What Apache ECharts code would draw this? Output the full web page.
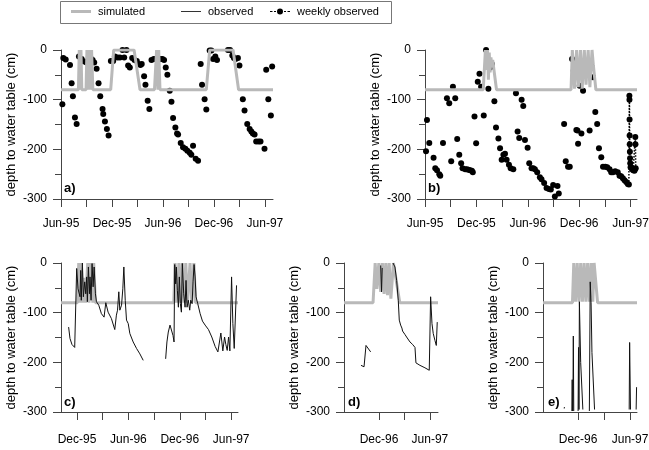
<!DOCTYPE html>
<html>
<head>
<meta charset="utf-8">
<script src="https://cdn.jsdelivr.net/npm/echarts@6/dist/echarts.min.js"></script>
<style>
html, body { margin: 0; padding: 0; background: #fff; }
#chart { width: 649px; height: 450px; }
</style>
</head>
<body>
<div id="chart"></div>
<script>
// x = months after Jun-95 (0 = Jun-95 ... 24 = Jun-97), y = depth to water table (cm)
var monthNames = { 0: 'Jun-95', 6: 'Dec-95', 12: 'Jun-96', 18: 'Dec-96', 24: 'Jun-97' };
var ticksFull = [0, 3, 6, 9, 12, 15, 18, 21, 24];
var labelsFull = [0, 6, 12, 18, 24];
var ticksC = [6, 9, 12, 15, 18, 21, 24];
var labelsC = [6, 12, 18, 24];
var ticksDE = [18, 21, 24];
var labelsDE = [18, 24];

// simulated water table
var simA = [[0,-80],[2.05,-80],[2.15,0],[2.25,-80],[2.35,0],[2.45,-80],[2.95,-80],[3.05,0],[3.15,-80],[3.25,0],[3.4,0],[3.5,-80],[3.6,0],[3.75,-80],[5.85,-80],[6.2,0],[8.6,0],[9.3,-80],[11.0,-80],[11.25,0],[11.4,-80],[11.5,0],[11.65,-80],[11.9,-80],[17.1,-80],[17.5,0],[20.25,0],[20.9,-80],[24.95,-80]];
var simB = [[0,-80],[6.8,-80],[7.05,0],[7.15,-40],[7.3,0],[7.4,-60],[7.5,-5],[7.6,-45],[7.7,-15],[7.8,-35],[7.9,-20],[8.35,-80],[17.05,-80],[17.2,0],[17.45,-78],[17.7,0],[17.9,-75],[18.15,0],[18.35,-78],[18.6,0],[18.8,-70],[19.05,0],[19.25,-75],[19.5,0],[19.65,-30],[19.95,-80],[24.75,-80]];
var simC = [[4.13,-80],[6.05,-80],[6.2,0],[6.35,-80],[6.5,0],[6.65,-80],[6.8,-30],[7.0,-80],[7.25,0],[7.4,-80],[7.55,0],[7.7,0],[7.85,-80],[7.95,0],[8.15,-80],[17.3,-80],[17.45,0],[17.65,-80],[17.9,0],[18.1,-80],[18.3,0],[18.5,-80],[18.7,0],[18.9,-80],[19.2,0],[19.4,-80],[19.65,0],[19.85,-80],[24.8,-80]];
var simD = [[13.88,-80],[17.3,-80],[17.55,0],[17.75,-52],[17.98,0],[18.2,-58],[18.4,0],[18.6,-62],[18.8,0],[19.0,-65],[19.2,0],[19.4,-72],[19.7,0],[19.9,0],[20.45,-80],[24.95,-80]];
var simE = [[13.95,-80],[17.35,-80],[17.5,0],[17.7,-78],[17.9,0],[18.1,-78],[18.3,0],[18.5,-78],[18.7,0],[18.9,-78],[19.1,0],[19.3,-78],[19.5,0],[19.7,-78],[19.85,0],[20.25,-80],[24.8,-80]];

// weekly observed
var weekA = [[0.16,-109],[0.27,-16],[0.55,-19],[1.06,-30],[1.25,-67],[1.4,-93],[1.64,-136],[1.84,-149],
  [2.11,-13],[2.43,-18],[2.74,-23],[3.01,-25],[3.29,-13],[3.48,-16],[3.72,-20],[3.91,-25],[4.19,-38],[4.42,-67],[4.62,-93],[4.89,-119],[4.97,-129],[5.17,-144],[5.4,-159],[5.6,-172],
  [5.87,-22],[6.14,-22],[6.34,-13],[6.65,-15],[6.93,-15],[7.24,0],[7.44,-15],[7.71,0],[7.9,-31],[8.1,-35],[8.38,-16],[8.65,-20],[8.92,-22],[9.12,-28],[9.35,-30],[9.5,-28],[9.78,-53],[9.94,-70],[10.2,-102],[10.4,-119],
  [10.65,-20],[10.92,-18],[11.15,-18],[11.43,-18],[11.7,-18],[11.94,-18],[12.13,-20],[12.33,-35],[12.52,-50],[12.8,-82],[13.0,-104],[13.19,-137],[13.46,-156],[13.66,-168],[13.78,-170],[14.09,-187],[14.36,-196],[14.64,-199],[14.87,-203],[15.15,-207],[15.34,-211],[15.54,-193],[15.85,-219],[16.13,-223],
  [16.44,-28],[16.6,-70],[16.9,-99],[17.1,-120],[17.5,-1],[17.7,-1],[17.9,-18],[18.16,-13],[18.36,-20],[19.65,0],[19.9,0],[20.16,-11],[20.35,-16],[20.55,-18],[20.82,-16],[21.0,-31],
  [21.4,-99],[21.6,-122],[21.92,-149],[22.2,-159],[22.4,-164],[22.58,-168],[22.78,-170],[22.97,-184],[23.25,-184],[23.48,-184],[23.95,-199],[24.15,-40],[24.4,-99],[24.7,-132],[24.85,-33]];
var weekB = [[0.12,-204],[0.23,-141],[0.5,-187],[1.0,-217],[1.2,-238],[1.4,-242],[1.67,-250],[1.78,-253],[2.1,-187],[2.56,-97],[2.83,-107],[3.06,-224],[3.26,-74],[3.53,-97],[3.76,-179],[4.0,-211],[4.22,-228],[4.38,-238],[4.69,-240],[4.88,-240],[5.08,-241],[5.27,-242],[5.47,-243],[5.58,-246],
  [5.78,-134],[5.97,-188],[6.16,-64],[6.36,-48],[6.55,-74],[6.86,-132],[7.13,0],[7.4,-78],[7.6,-35],[7.79,-28],[8.1,-103],[8.29,-156],[8.57,-178],[8.76,-198],[8.95,-221],[9.15,-211],[9.34,-209],[9.53,-221],[9.8,-231],[10.0,-238],[10.31,-240],
  [10.62,-87],[10.81,-164],[11.0,-177],[11.28,-100],[11.47,-113],[11.67,-181],[11.98,-197],[12.17,-228],[12.44,-238],[12.64,-238],[12.83,-240],[13.1,-246],[13.41,-256],[13.6,-260],[13.91,-268],[14.19,-278],[14.46,-280],[14.69,-281],[14.96,-272],[15.16,-295],[15.47,-274],[15.62,-289],[15.85,-302],
  [16.24,-149],[16.43,-224],[16.7,-235],[16.9,-235],[17.17,-18],[17.36,-42],[17.67,-161],[17.8,-162],[17.87,-189],[18.06,-72],[18.26,-168],[18.45,-82],[19.22,-162],[19.42,-32],[19.61,-55],[19.88,-125],[20.1,-149],[20.31,-198],[20.58,-216],[20.78,-235],[21.05,-235],[21.28,-236],[21.55,-240],[21.74,-246],[21.94,-246],[22.2,-244],[22.5,-246],[22.71,-253],[22.9,-254],[23.1,-258],[23.29,-262],[23.49,-266],[23.68,-270]];
var weekBDense = [[23.8,-271],[23.86,-92],[23.87,-100],[23.88,-140],[23.89,-172],[23.9,-190],[23.92,-205],[23.94,-218],[23.96,-228],[24.0,-236],[24.1,-238],[24.2,-240],[24.3,-242],[24.45,-243],[24.52,-240],[24.55,-175],[24.57,-190],[24.6,-238]];

// continuous observed ('-' = no record)
var obsC = [[5.02,-129],[5.18,-152],[5.41,-164],[5.73,-170],[5.92,-174],[5.96,-11],[6.12,-52],[6.23,-55],[6.35,-68],[6.43,-15],[6.5,-75],[6.63,0],[6.74,-68],[6.9,-38],[7.02,-62],[7.13,-28],[7.21,-78],[7.33,-8],[7.45,-62],[7.52,-28],[7.64,-75],[7.76,-1],[7.88,-48],[8.0,-8],[8.15,-62],[8.27,-78],[8.54,-85],[8.85,-102],[9.16,-109],[9.36,-80],[9.63,-99],[10.02,-112],[10.41,-134],[10.6,-105],[10.73,-95],[10.88,-58],[11.0,-95],[11.2,-85],[11.35,-52],[11.47,-8],[11.63,-75],[11.78,-115],[11.98,-122],[12.17,-142],[12.56,-159],[12.95,-172],[13.34,-183],[13.73,-196],
  [15,'-'],
  [16.35,-193],[16.5,-159],[16.66,-139],[16.86,-125],[17.05,-127],[17.21,-146],[17.33,-159],[17.41,-3],[17.52,-42],[17.6,-8],[17.72,-55],[17.84,-89],[17.95,-28],[18.07,-82],[18.19,-99],[18.3,-1],[18.46,-62],[18.62,-89],[18.73,-35],[18.85,-89],[19.0,-75],[19.16,-95],[19.28,-75],[19.44,-82],[19.55,-38],[19.67,-3],[19.79,-28],[19.9,-68],[20.1,-82],[20.38,-102],[20.65,-117],[20.96,-125],[21.35,-134],[21.74,-149],[22.13,-168],[22.45,-179],[22.68,-182],[22.8,-141],[22.91,-139],[23.03,-177],[23.23,-149],[23.38,-164],[23.54,-176],[23.7,-149],[23.85,-177],[24.05,-28],[24.2,-122],[24.36,-172],[24.48,-176],[24.63,-45]];
var obsD = [[15.88,-206],[16.24,-209],[16.47,-166],[16.67,-170],[17.02,-179],[17.1,'-'],[18.2,-5],[18.3,-58],[18.38,-10],[18.5,'-'],
  [19.65,0],[19.88,-8],[20.08,-35],[20.27,-75],[20.39,-115],[20.55,-125],[20.7,-131],[20.78,-137],[21.06,-144],[21.25,-149],[21.65,-159],[21.96,-164],[22.24,-170],[22.35,-201],[22.82,-206],[23.41,-211],[23.92,-216],[24.08,-68],[24.24,-122],[24.39,-142],[24.59,-156],[24.75,-166],[24.86,-119]];
var obsE = [[16.4,-293],[16.42,-290],[16.45,'-'],[17.28,-298],[17.32,-235],[17.36,-298],[17.38,'-'],[17.4,-298],[17.45,-147],[17.5,-298],[17.6,'-'],
  [18.0,-298],[18.05,-170],[18.1,-295],[18.15,-78],[18.3,-200],[18.55,-295],[18.6,'-'],
  [19.3,-298],[19.4,-38],[19.5,-80],[19.6,-180],[19.9,-295],[20,'-'],
  [23.9,-295],[23.95,-160],[24.05,-295],[24.1,'-'],[24.7,-295],[24.75,-250]];

var font = 'Liberation Sans, Arial, sans-serif';
var axisColor = '#444';
var simColor = '#b9b9b9';

var grids = [
    { left: 61, top: 50, width: 212, height: 149 },
    { left: 425, top: 50, width: 212, height: 149 },
    { left: 61, top: 263, width: 177, height: 149 },
    { left: 344, top: 263, width: 94, height: 149 },
    { left: 543, top: 263, width: 94, height: 149 }
];
grids.forEach(function (g) { g.outerBoundsMode = 'none'; g.containLabel = false; });

var xRanges = [[0, 24.95], [0, 24.75], [4.13, 24.8], [13.88, 24.95], [13.95, 24.8]];
var xTicks = [ticksFull, ticksFull, ticksC, ticksDE, ticksDE];
var xLabels = [labelsFull, labelsFull, labelsC, labelsDE, labelsDE];

var xAxes = [], yAxes = [];
for (var i = 0; i < 5; i++) {
    xAxes.push({
        type: 'value', gridIndex: i, min: xRanges[i][0], max: xRanges[i][1],
        axisLine: { show: true, onZero: false, lineStyle: { color: axisColor, width: 1 } },
        axisTick: { show: true, length: 8, customValues: xTicks[i], lineStyle: { color: axisColor } },
        axisLabel: {
            customValues: xLabels[i], margin: i < 2 ? 19 : 22,
            fontSize: 12, color: '#000', fontFamily: font,
            formatter: function (v) { return monthNames[Math.round(v)] || ''; }
        },
        splitLine: { show: false }
    });
    yAxes.push({
        type: 'value', gridIndex: i, min: -300, max: 0, interval: 100,
        name: 'depth to water table (cm)', nameLocation: 'middle', nameGap: 43,
        nameTextStyle: { fontSize: 13, color: '#000', fontFamily: font },
        axisLine: { show: true, onZero: false, lineStyle: { color: axisColor, width: 1 } },
        axisTick: { show: true, length: 8, lineStyle: { color: axisColor } },
        minorTick: { show: true, splitNumber: 2, length: 6, lineStyle: { color: axisColor } },
        axisLabel: { margin: 14, fontSize: 12, color: '#000', fontFamily: font },
        splitLine: { show: false }
    });
}

function simSeries(idx, data) {
    return { name: 'simulated', type: 'line', xAxisIndex: idx, yAxisIndex: idx, data: data,
        symbol: 'none', lineStyle: { color: simColor, width: 3 }, itemStyle: { color: simColor } };
}
function obsSeries(idx, data) {
    return { name: 'observed', type: 'line', xAxisIndex: idx, yAxisIndex: idx, data: data,
        symbol: 'none', connectNulls: false, lineStyle: { color: '#111', width: 1 }, itemStyle: { color: '#111' } };
}
function weekSeries(idx, data) {
    return { name: 'weekly observed', type: 'scatter', xAxisIndex: idx, yAxisIndex: idx, data: data,
        symbol: 'circle', symbolSize: 6, itemStyle: { color: '#000', opacity: 1 } };
}

var series = [
    simSeries(0, simA), simSeries(1, simB), simSeries(2, simC), simSeries(3, simD), simSeries(4, simE),
    { name: 'weekly observed', type: 'line', xAxisIndex: 1, yAxisIndex: 1, data: weekBDense,
      symbol: 'circle', symbolSize: 6, showAllSymbol: true,
      lineStyle: { color: '#000', width: 1.5, type: 'dotted' }, itemStyle: { color: '#000', opacity: 1 } },
    weekSeries(0, weekA), weekSeries(1, weekB),
    obsSeries(2, obsC), obsSeries(3, obsD), obsSeries(4, obsE)
];

function legendAt(item, left, w, h) {
    return { data: [item], left: left, top: 6, padding: 0, itemWidth: w, itemHeight: h,
        selectedMode: false, textStyle: { fontSize: 11, color: '#000', fontFamily: font, padding: [0, 0, 0, 2] } };
}
var weeklyIcon = 'path://M0,2.5h2.5v1h-2.5z M4,2.5h2v1h-2z M14,2.5h2v1h-2z M17.5,2.5h2.5v1h-2.5z M7,3a3,3 0 1,0 6,0a3,3 0 1,0 -6,0z';

var panelTags = [['a)', 64, 182], ['b)', 428, 182], ['c)', 64, 396], ['d)', 348, 396], ['e)', 548, 396]];

var dom = document.getElementById('chart');
var myChart = echarts.init(dom, null, { renderer: 'canvas' });
var option = {
    animation: false,
    backgroundColor: '#fff',
    textStyle: { fontFamily: font },
    grid: grids,
    xAxis: xAxes,
    yAxis: yAxes,
    legend: [
        legendAt({ name: 'simulated', icon: 'rect', itemStyle: { color: simColor } }, 71, 20, 3),
        legendAt({ name: 'observed', icon: 'rect', itemStyle: { color: '#333' } }, 181, 20, 1),
        legendAt({ name: 'weekly observed', icon: weeklyIcon, itemStyle: { color: '#000' } }, 270, 20, 6)
    ],
    graphic: [{ type: 'rect', left: 60, top: 1, z: -1, silent: true,
        shape: { width: 331, height: 22 }, style: { fill: '#fff', stroke: '#777', lineWidth: 1 } }]
        .concat(panelTags.map(function (t) {
            return { type: 'text', left: t[1], top: t[2], silent: true,
                style: { text: t[0], font: 'bold 13px ' + font, fill: '#000' } };
        })),
    series: series
};
if (option && typeof option === 'object') {
    myChart.setOption(option, true);
}
</script>
</body>
</html>
